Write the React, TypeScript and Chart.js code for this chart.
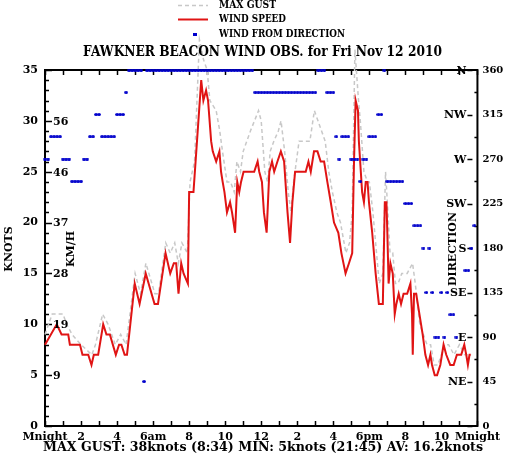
import React, { useEffect, useRef } from 'react';
import { Chart, registerables } from 'chart.js';

Chart.register(...registerables);

const FONT = '"DejaVu Serif", "Liberation Serif", serif';

// ---- data ----
const xTickLabels = ['Mnight', '2', '4', '6am', '8', '10', '12', '2', '4', '6pm', '8', '10', 'Mnight'];
const kmhKnots = [5, 10, 15, 20, 25, 30];
const kmhLabels = ['9', '19', '28', '37', '46', '56'];
const compassDegrees = [45, 90, 135, 180, 225, 270, 315, 360];
const compassLabels = ['NE', 'E', 'SE', 'S', 'SW', 'W', 'NW', 'N'];

const titleText = 'FAWKNER BEACON WIND OBS. for Fri Nov 12 2010';
const statsText = 'MAX GUST: 38knots (8:34) MIN: 5knots (21:45) AV: 16.2knots';

// [hour, knots]
const speedReadings: [number, number][] = [
  [0, 8], [0.65, 10], [0.92, 9], [1.29, 9], [1.38, 8], [1.94, 8], [2.08, 7], [2.4, 7], [2.58, 6], [2.71, 7],
  [2.95, 7], [3.23, 10], [3.41, 9], [3.6, 9], [3.93, 7], [4.11, 8], [4.24, 8], [4.42, 7], [4.55, 7], [4.98, 14],
  [5.25, 12], [5.59, 15], [6.08, 12], [6.27, 12], [6.69, 17], [6.95, 15], [7.15, 16], [7.28, 16], [7.41, 13], [7.56, 16],
  [7.69, 15], [7.93, 14], [8.0, 23], [8.24, 23], [8.67, 34], [8.79, 32], [8.94, 33], [9.05, 32], [9.22, 28], [9.31, 27],
  [9.5, 26], [9.68, 27], [9.77, 25], [9.86, 24], [9.96, 23], [10.1, 21], [10.27, 22], [10.38, 21], [10.55, 19], [10.67, 24],
  [10.78, 23], [10.88, 24], [11.02, 25], [11.61, 25], [11.8, 26], [11.89, 25], [12.04, 24], [12.15, 21], [12.3, 19], [12.45, 25],
  [12.6, 26], [12.72, 25], [12.9, 26], [13.09, 27], [13.27, 26], [13.46, 21], [13.6, 18], [13.73, 22], [13.88, 25], [14.47, 25],
  [14.62, 26], [14.75, 25], [14.93, 27], [15.12, 27], [15.3, 26], [15.49, 26], [15.67, 24], [15.86, 22], [16.04, 20], [16.28, 19],
  [16.45, 17], [16.68, 15], [16.87, 16], [17.05, 17], [17.15, 26], [17.24, 32], [17.37, 31], [17.42, 28], [17.6, 23], [17.7, 22],
  [17.8, 24], [17.9, 24], [17.98, 22], [18.16, 19], [18.35, 15], [18.53, 12], [18.75, 12], [18.86, 22], [18.95, 22], [19.0, 19],
  [19.07, 14], [19.17, 16], [19.3, 15], [19.41, 11], [19.5, 12], [19.63, 13], [19.76, 12], [19.9, 13], [20.1, 13], [20.28, 14],
  [20.37, 11], [20.41, 7], [20.48, 13], [20.6, 13], [20.78, 11], [20.96, 9], [21.11, 7], [21.26, 6], [21.39, 7], [21.48, 6],
  [21.63, 5], [21.76, 5], [21.94, 6], [22.12, 8], [22.27, 7], [22.49, 6], [22.68, 6], [22.86, 7], [23.1, 7], [23.27, 8],
  [23.38, 7], [23.47, 6], [23.56, 7], [23.63, 7],
];

// [hour, knots]
const gustReadings: [number, number][] = [
  [0, 9], [0.4, 11], [1.0, 11], [1.2, 10], [1.5, 9], [2.0, 8], [2.6, 7], [2.8, 8], [3.2, 11], [3.5, 10],
  [3.9, 8], [4.2, 9], [4.5, 8], [5.0, 15], [5.3, 13], [5.6, 16], [6.1, 13], [6.3, 13], [6.7, 18], [6.95, 17],
  [7.2, 18], [7.4, 16], [7.6, 18], [7.9, 17], [8.05, 24], [8.3, 26], [8.57, 38], [8.8, 36], [9.0, 35], [9.15, 32],
  [9.5, 31], [9.7, 29], [9.85, 27], [10.1, 24], [10.3, 24], [10.5, 23], [10.65, 26], [10.85, 25], [11.0, 27], [11.4, 29],
  [11.85, 31], [12.0, 30], [12.2, 25], [12.35, 24], [12.5, 27], [12.7, 28], [12.95, 29], [13.1, 30], [13.3, 27], [13.5, 23],
  [13.65, 21], [13.8, 24], [14.1, 28], [14.5, 28], [14.7, 28], [14.95, 31], [15.15, 30], [15.35, 29], [15.55, 28], [15.75, 25],
  [15.95, 23], [16.2, 21], [16.4, 20], [16.7, 17], [16.9, 18], [17.05, 21], [17.2, 37], [17.4, 32], [17.5, 30], [17.7, 25],
  [17.9, 24], [18.0, 24], [18.2, 21], [18.4, 17], [18.55, 14], [18.75, 15], [18.9, 25], [19.0, 22], [19.15, 17], [19.3, 17],
  [19.45, 14], [19.6, 14], [19.8, 15], [20.1, 15], [20.4, 16], [20.55, 14], [20.8, 10], [21.0, 9], [21.2, 8], [21.4, 8],
  [21.6, 6], [21.8, 6], [22.0, 7], [22.2, 8], [22.4, 8], [22.7, 7], [23.0, 8], [23.3, 7], [23.5, 7], [23.65, 7],
];

// wind-from direction (degrees), one reading per 10 minutes from midnight; null = no reading
const directionReadings: (number | null)[] = [
  270, 270, 292.5, 292.5, 292.5, 292.5, 270, 270, 270, 247.5,
  247.5, 247.5, 247.5, 270, 270, 292.5, 292.5, 315, 315, 292.5,
  292.5, 292.5, 292.5, 292.5, 315, 315, 315, 337.5, 360, 360,
  360, 360, 360, 45, 360, 360, 360, 360, 360, 360,
  360, 360, 360, 360, 360, 360, 360, 360, 360, 360,
  360, 360, 360, 360, 360, 360, 360, 360, 360, 360,
  360, 360, 360, 360, 360, 360, 360, 360, 360, 360,
  337.5, 337.5, 337.5, 337.5, 337.5, 337.5, 337.5, 337.5, 337.5, 337.5,
  337.5, 337.5, 337.5, 337.5, 337.5, 337.5, 337.5, 337.5, 337.5, 337.5,
  337.5, 360, 360, 360, 337.5, 337.5, 337.5, 292.5, 270, 292.5,
  292.5, 292.5, 270, 270, 270, 247.5, 270, 270, 292.5, 292.5,
  292.5, 315, 315, 360, 247.5, 247.5, 247.5, 247.5, 247.5, 247.5,
  225, 225, 225, 202.5, 202.5, 202.5, 180, 135, 180, 135,
  90, 90, 135, 90, 135, 112.5, 112.5, 90, null, null,
  157.5, 157.5, 180, 202.5,
];

const RED = '#e01414';
const GRAY = '#c8c8c8';
const BLUE = '#0000cc';

function boldFont(size: number) {
  return `bold ${size}px ${FONT}`;
}

function makeDot(): HTMLCanvasElement {
  const c = document.createElement('canvas');
  c.width = 4;
  c.height = 3;
  const g = c.getContext('2d')!;
  g.fillStyle = BLUE;
  g.beginPath();
  g.ellipse(2, 1.5, 1.9, 1.5, 0, 0, Math.PI * 2);
  g.fill();
  return c;
}

function fitText(ctx: CanvasRenderingContext2D, text: string, x: number, y: number, width: number, size: number) {
  ctx.font = boldFont(size);
  const w = ctx.measureText(text).width;
  ctx.save();
  ctx.translate(x, y);
  ctx.scale(width / w, 1);
  ctx.fillText(text, 0, 0);
  ctx.restore();
}

const decor = {
  id: 'decor',
  beforeDatasetsDraw(chart: any) {
    const { ctx, chartArea } = chart;
    const { left, right, top, bottom } = chartArea;
    const xs = chart.scales.x;
    const ys = chart.scales.y;
    const yd = chart.scales.yDir;
    ctx.save();
    ctx.strokeStyle = '#000';
    ctx.lineWidth = 1.5;
    ctx.beginPath();
    for (let h = 0; h <= 24; h++) {
      const px = Math.round(xs.getPixelForValue(h)) + 0.5;
      ctx.moveTo(px, bottom);
      ctx.lineTo(px, bottom - 5);
      ctx.moveTo(px, top);
      ctx.lineTo(px, top + 5);
    }
    for (let k = 0; k <= 35; k++) {
      const py = Math.round(ys.getPixelForValue(k)) + 0.5;
      const len = k % 5 === 0 ? 7 : 4;
      ctx.moveTo(left, py);
      ctx.lineTo(left + len, py);
    }
    for (let d = 0; d <= 360; d += 22.5) {
      const py = Math.round(yd.getPixelForValue(d)) + 0.5;
      if (d % 45 === 0) {
        ctx.moveTo(right - 10, py);
        ctx.lineTo(right - 5, py);
      } else {
        ctx.moveTo(right, py);
        ctx.lineTo(right - 3, py);
      }
    }
    ctx.stroke();
    ctx.lineWidth = 2;
    ctx.strokeRect(left, top, right - left, bottom - top);
    ctx.restore();
  },
  afterDraw(chart: any) {
    const { ctx, chartArea } = chart;
    const { left, right } = chartArea;
    const ys = chart.scales.y;
    const yd = chart.scales.yDir;
    ctx.save();
    ctx.fillStyle = '#000';
    ctx.textBaseline = 'middle';

    // km/h labels inside left axis
    ctx.font = boldFont(11);
    ctx.textAlign = 'left';
    kmhKnots.forEach((k, i) => {
      ctx.fillText(kmhLabels[i], left + 8, ys.getPixelForValue(k) + 1);
    });
    // compass labels inside right axis
    ctx.textAlign = 'right';
    compassDegrees.forEach((d, i) => {
      ctx.fillText(compassLabels[i], right - 11, yd.getPixelForValue(d) + 1);
    });

    // axis titles
    const rot = (text: string, x: number, y: number, size: number) => {
      ctx.save();
      ctx.translate(x, y);
      ctx.rotate(-Math.PI / 2);
      ctx.font = boldFont(size);
      ctx.textAlign = 'center';
      ctx.fillText(text, 0, 0);
      ctx.restore();
    };
    rot('KNOTS', 9, 249, 11);
    rot('KM/H', 71, 249, 11);
    rot('DIRECTION', 453, 249, 11);

    // legend
    ctx.textAlign = 'left';
    ctx.lineWidth = 1.5;
    ctx.strokeStyle = GRAY;
    ctx.setLineDash([4, 3]);
    ctx.beginPath();
    ctx.moveTo(178, 5.5);
    ctx.lineTo(208, 5.5);
    ctx.stroke();
    ctx.setLineDash([]);
    ctx.strokeStyle = RED;
    ctx.lineWidth = 2;
    ctx.beginPath();
    ctx.moveTo(178, 19.5);
    ctx.lineTo(208, 19.5);
    ctx.stroke();
    ctx.fillStyle = BLUE;
    ctx.fillRect(193, 33, 4, 3);
    ctx.fillStyle = '#000';
    fitText(ctx, 'MAX GUST', 219, 5, 57, 11);
    fitText(ctx, 'WIND SPEED', 219, 19.5, 67, 11);
    fitText(ctx, 'WIND FROM DIRECTION', 219, 34, 126, 11);

    // title
    fitText(ctx, titleText, 83, 52.5, 359, 14);
    // stats line
    fitText(ctx, statsText, 43, 448, 440, 12);
    ctx.restore();
  },
};

export default function App() {
  const ref = useRef<HTMLCanvasElement>(null);
  useEffect(() => {
    if (!ref.current) return;
    const tickFont = { family: FONT, size: 11, weight: 'bold' as const };
    const dot = makeDot();
    const chart = new Chart(ref.current, {
      type: 'line',
      data: {
        datasets: [
          {
            label: 'WIND FROM DIRECTION',
            type: 'scatter',
            data: directionReadings
              .map((d, i) => (d === null ? null : { x: i / 6, y: d }))
              .filter((p) => p !== null) as any,
            yAxisID: 'yDir',
            showLine: false,
            pointStyle: dot,
            pointRadius: 2,
            pointBackgroundColor: BLUE,
            pointBorderColor: BLUE,
            pointBorderWidth: 0,
            clip: false as any,
            order: 0,
          } as any,
          {
            label: 'WIND SPEED',
            data: speedReadings.map(([x, y]) => ({ x, y })),
            yAxisID: 'y',
            borderColor: RED,
            borderWidth: 2,
            pointRadius: 0,
            tension: 0,
            fill: false,
            clip: false as any,
            order: 1,
          },
          {
            label: 'MAX GUST',
            data: gustReadings.map(([x, y]) => ({ x, y })),
            yAxisID: 'y',
            borderColor: GRAY,
            borderWidth: 1.5,
            borderDash: [4, 3],
            pointRadius: 0,
            tension: 0,
            fill: false,
            clip: false as any,
            order: 2,
          },
        ],
      },
      options: {
        responsive: false,
        animation: false,
        events: [],
        layout: { padding: { top: 70, left: 0, right: 0, bottom: 0 } },
        plugins: { legend: { display: false }, title: { display: false }, tooltip: { enabled: false } },
        scales: {
          x: {
            type: 'linear',
            min: 0,
            max: 24,
            position: 'bottom',
            grid: { display: false, drawTicks: false },
            border: { display: false },
            ticks: {
              stepSize: 2,
              autoSkip: false,
              maxRotation: 0,
              padding: 5,
              color: '#000',
              font: tickFont,
              callback: (v: any) => xTickLabels[Math.round(Number(v) / 2)],
            },
            afterFit: (s: any) => {
              s.height = 37;
            },
          },
          y: {
            type: 'linear',
            min: 0,
            max: 35,
            position: 'left',
            grid: { display: false, drawTicks: false },
            border: { display: false },
            ticks: { stepSize: 5, padding: 7, color: '#000', font: tickFont },
            afterFit: (s: any) => {
              s.width = 45;
            },
          },
          yDir: {
            type: 'linear',
            min: 0,
            max: 360,
            position: 'right',
            grid: { display: false, drawTicks: false },
            border: { display: false },
            ticks: { stepSize: 45, padding: 5, color: '#000', font: { ...tickFont, size: 10 } },
            afterFit: (s: any) => {
              s.width = 26;
            },
          },
        },
      } as any,
      plugins: [decor],
    });
    return () => chart.destroy();
  }, []);
  return (
    <div style={{ position: 'absolute', left: 0, top: 0, width: 505, height: 463, background: '#fff' }}>
      <canvas ref={ref} width={505} height={463} style={{ display: 'block' }} />
    </div>
  );
}
